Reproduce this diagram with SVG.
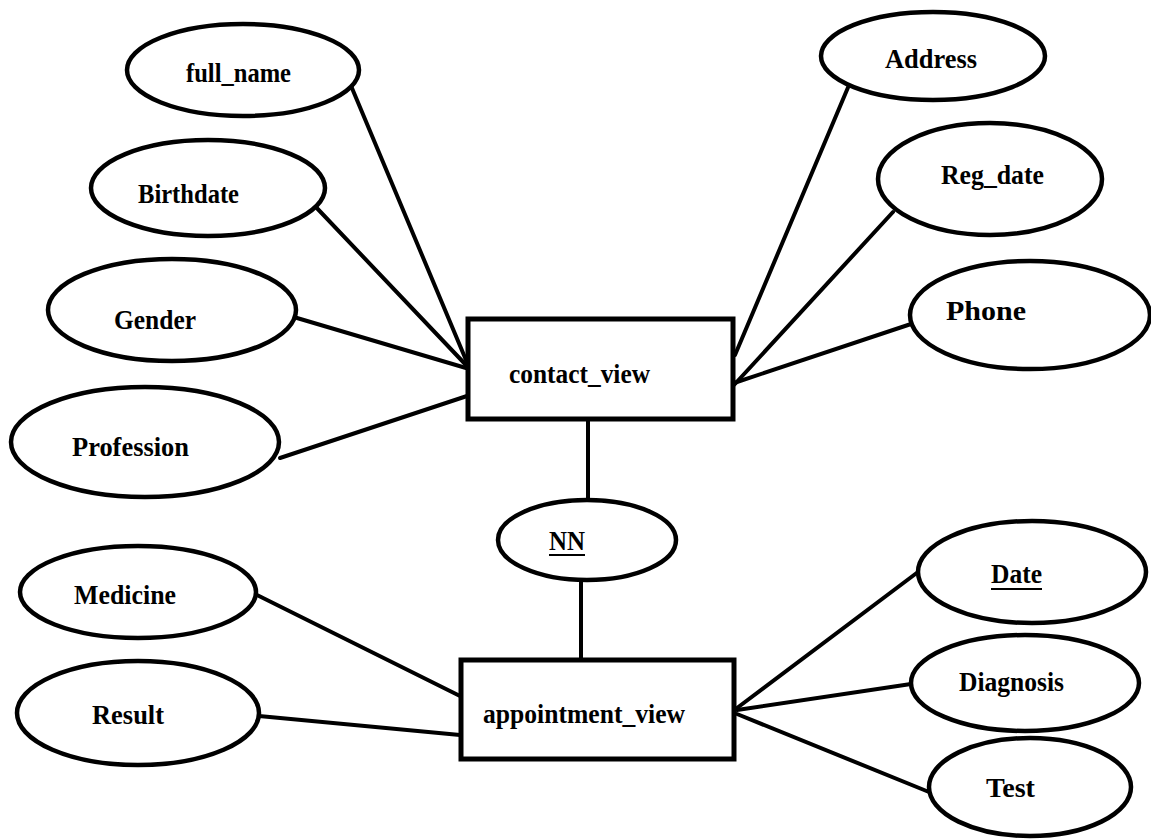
<svg xmlns="http://www.w3.org/2000/svg" width="1151" height="840" viewBox="0 0 1151 840">
  <style>
    .attr { fill: #fff; stroke: #000; stroke-width: 4.5; }
    .entity { fill: #fff; stroke: #000; stroke-width: 5; }
    .link { stroke: #000; stroke-width: 4; fill: none; stroke-linecap: round; }
    .lbl { font-family: "Liberation Serif", "Times New Roman", serif; font-weight: bold; font-size: 28px; fill: #000; }
    .ul { stroke: #000; stroke-width: 2; }
  </style>
  <rect width="1151" height="840" fill="#fff"/>

  <!-- connectors -->
  <g id="connectors">
    <line class="link" x1="349" y1="81" x2="466" y2="360"/>
    <line class="link" x1="313" y1="204" x2="466" y2="365"/>
    <line class="link" x1="297" y1="318" x2="466" y2="368"/>
    <line class="link" x1="280" y1="458" x2="467" y2="396"/>
    <line class="link" x1="852" y1="78" x2="735" y2="355"/>
    <line class="link" x1="893" y1="212" x2="734" y2="385"/>
    <line class="link" x1="911" y1="324" x2="734" y2="383"/>
    <line class="link" x1="588" y1="420" x2="588" y2="501"/>
    <line class="link" x1="581" y1="580" x2="581" y2="658"/>
    <line class="link" x1="257" y1="595" x2="460" y2="696"/>
    <line class="link" x1="259" y1="716" x2="460" y2="735"/>
    <line class="link" x1="918" y1="572" x2="737" y2="708"/>
    <line class="link" x1="911" y1="684" x2="737" y2="710"/>
    <line class="link" x1="929" y1="792" x2="737" y2="714"/>
  </g>

  <!-- entities -->
  <g id="contact_view">
    <rect class="entity" x="468" y="319" width="265" height="100"/>
    <text class="lbl" x="509" y="383" textLength="141" lengthAdjust="spacingAndGlyphs">contact_view</text>
  </g>
  <g id="appointment_view">
    <rect class="entity" x="461" y="660" width="273" height="99"/>
    <text class="lbl" x="483" y="723" textLength="202" lengthAdjust="spacingAndGlyphs">appointment_view</text>
  </g>

  <!-- contact_view attributes -->
  <g id="full_name">
    <ellipse class="attr" cx="243" cy="70" rx="116" ry="46"/>
    <text class="lbl" x="186" y="82" textLength="105" lengthAdjust="spacingAndGlyphs">full_name</text>
  </g>
  <g id="Birthdate">
    <ellipse class="attr" cx="208" cy="188" rx="117" ry="48"/>
    <text class="lbl" x="138" y="203" textLength="101" lengthAdjust="spacingAndGlyphs">Birthdate</text>
  </g>
  <g id="Gender">
    <ellipse class="attr" cx="172" cy="310" rx="124" ry="51"/>
    <text class="lbl" x="114" y="329" textLength="82" lengthAdjust="spacingAndGlyphs">Gender</text>
  </g>
  <g id="Profession">
    <ellipse class="attr" cx="145" cy="442" rx="134" ry="55"/>
    <text class="lbl" x="72" y="456" textLength="117" lengthAdjust="spacingAndGlyphs">Profession</text>
  </g>
  <g id="Address">
    <ellipse class="attr" cx="933" cy="56" rx="112" ry="44"/>
    <text class="lbl" x="885" y="68" textLength="92" lengthAdjust="spacingAndGlyphs">Address</text>
  </g>
  <g id="Reg_date">
    <ellipse class="attr" cx="990" cy="179" rx="112" ry="56"/>
    <text class="lbl" x="941" y="184" textLength="103" lengthAdjust="spacingAndGlyphs">Reg_date</text>
  </g>
  <g id="Phone">
    <ellipse class="attr" cx="1030" cy="315" rx="120" ry="54"/>
    <text class="lbl" x="946" y="320" textLength="80" lengthAdjust="spacingAndGlyphs">Phone</text>
  </g>

  <!-- key attribute linking the two views -->
  <g id="NN">
    <ellipse class="attr" cx="587" cy="540" rx="89" ry="40"/>
    <text class="lbl" x="549" y="550" textLength="36" lengthAdjust="spacingAndGlyphs">NN</text>
    <line class="ul" x1="549" y1="555" x2="585" y2="555"/>
  </g>

  <!-- appointment_view attributes -->
  <g id="Medicine">
    <ellipse class="attr" cx="138" cy="592" rx="118" ry="46"/>
    <text class="lbl" x="74" y="604" textLength="102" lengthAdjust="spacingAndGlyphs">Medicine</text>
  </g>
  <g id="Result">
    <ellipse class="attr" cx="138" cy="713" rx="121" ry="52"/>
    <text class="lbl" x="92" y="724" textLength="72" lengthAdjust="spacingAndGlyphs">Result</text>
  </g>
  <g id="Date">
    <ellipse class="attr" cx="1032" cy="572" rx="114" ry="51"/>
    <text class="lbl" x="991" y="583" textLength="51" lengthAdjust="spacingAndGlyphs">Date</text>
    <line class="ul" x1="991" y1="589" x2="1042" y2="589"/>
  </g>
  <g id="Diagnosis">
    <ellipse class="attr" cx="1025" cy="683" rx="114" ry="48"/>
    <text class="lbl" x="959" y="691" textLength="105" lengthAdjust="spacingAndGlyphs">Diagnosis</text>
  </g>
  <g id="Test">
    <ellipse class="attr" cx="1030" cy="787" rx="101" ry="49"/>
    <text class="lbl" x="986" y="797" textLength="49" lengthAdjust="spacingAndGlyphs">Test</text>
  </g>
</svg>
